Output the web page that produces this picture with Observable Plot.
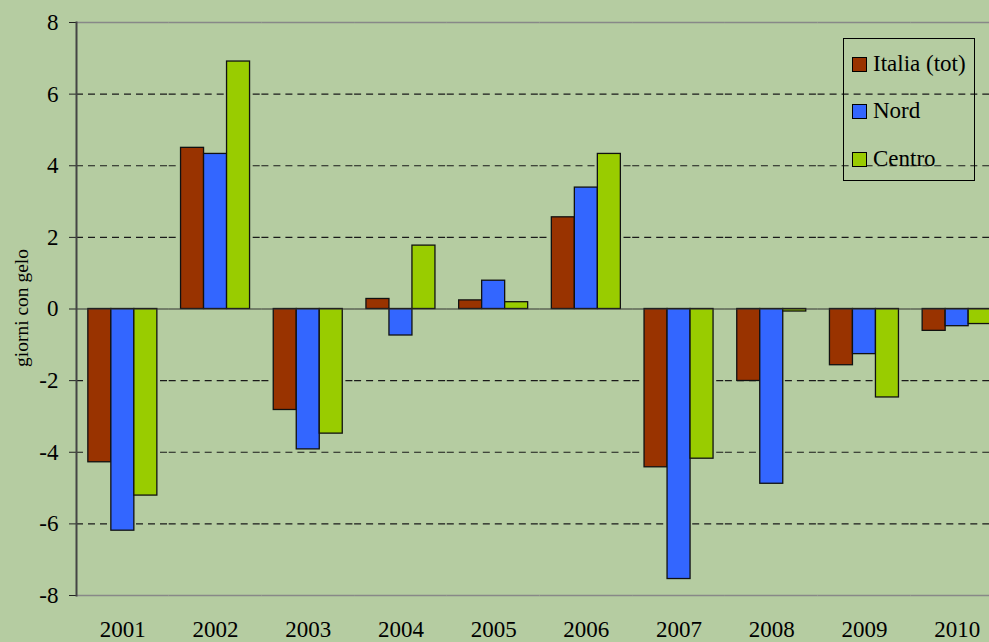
<!DOCTYPE html>
<html>
<head>
<meta charset="utf-8">
<script src="https://cdn.jsdelivr.net/npm/d3@7"></script>
<script src="https://cdn.jsdelivr.net/npm/@observablehq/plot@0.6"></script>
<style>
  html, body { margin: 0; padding: 0; overflow: hidden; background: #b5cca1; }
  #wrap { position: relative; width: 989px; height: 642px; background: #b5cca1; font-family: 'Liberation Serif', 'Times New Roman', serif; }
  #ylabel { position: absolute; left: 22px; top: 308px; transform: translate(-50%, -50%) rotate(-90deg); font-size: 19.5px; white-space: nowrap; color: #000; }
  #legend { position: absolute; left: 843px; top: 38px; width: 130px; height: 141px; border: 1.5px solid #000; box-sizing: content-box; }
  .item { position: absolute; left: 8px; display: flex; align-items: center; font-size: 23px; color: #000; white-space: nowrap; }
  .sw { width: 13px; height: 13px; border: 1.3px solid #000; margin-right: 6px; }
</style>
</head>
<body>
<div id="wrap">
  <div id="chart"></div>
  <div id="ylabel">giorni con gelo</div>
  <div id="legend"></div>
</div>
<script>
const years = ["2001","2002","2003","2004","2005","2006","2007","2008","2009","2010"];
const seriesNames = ["Italia (tot)", "Nord", "Centro"];
const seriesColors = ["#993300", "#3366ff", "#99cc00"];
const italia = [-4.28, 4.50, -2.82, 0.28, 0.24, 2.56, -4.42, -2.01, -1.57, -0.61];
const nord   = [-6.19, 4.33, -3.92, -0.74, 0.79, 3.39, -7.54, -4.88, -1.26, -0.48];
const centro = [-5.21, 6.91, -3.48, 1.77, 0.19, 4.33, -4.18, -0.07, -2.47, -0.42];
const yTicks = [-8, -6, -4, -2, 0, 2, 4, 6, 8];
const gridVals = [-6, -4, -2, 2, 4, 6];

const seriesValues = [italia, nord, centro];
const table = [];
years.forEach((yr, i) => {
  seriesNames.forEach((s, j) => table.push({year: yr, series: s, value: seriesValues[j][i]}));
});

const chart = Plot.plot({
  width: 989,
  height: 642,
  marginLeft: 76,
  marginTop: 22,
  marginBottom: 47,
  marginRight: 0,
  style: {background: "transparent", fontFamily: "'Liberation Serif', 'Times New Roman', serif", fontSize: "23px", color: "#000", overflow: "hidden"},
  fx: {domain: years, range: [76, 1003], padding: 0, round: false, label: null},
  x: {domain: seriesNames, paddingInner: 0, paddingOuter: 0.515, round: false, axis: null},
  y: {domain: [-8, 8], label: null},
  color: {domain: seriesNames, range: seriesColors},
  marks: [
    Plot.ruleY(gridVals, {stroke: "#1a1a1a", strokeDasharray: "7,5", strokeWidth: 1.2}),
    Plot.ruleY([8, -8], {stroke: "#888888", strokeWidth: 1.5}),
    Plot.barY(table, {fx: "year", x: "series", y: "value", fill: "series", stroke: "#111", strokeWidth: 1.3}),
    Plot.ruleY([0], {stroke: "#333", strokeWidth: 1.2}),
    Plot.axisY({ticks: yTicks, tickSize: 7, tickPadding: 11, tickFormat: d => String(d), label: null, stroke: "#222"}),
    Plot.axisFx({anchor: "bottom", tickSize: 0, tickPadding: 25, label: null}),
    Plot.frame({anchor: "left", stroke: "#444", strokeWidth: 2, facetAnchor: "left"})
  ]
});
document.getElementById("chart").appendChild(chart);

const legend = document.getElementById("legend");
const rowTops = [12, 59, 107];
seriesNames.forEach((s, i) => {
  const it = document.createElement("div");
  it.className = "item";
  it.style.top = rowTops[i] + "px";
  const sw = document.createElement("div");
  sw.className = "sw";
  sw.style.background = seriesColors[i];
  const t = document.createElement("span");
  t.textContent = s;
  it.appendChild(sw);
  it.appendChild(t);
  legend.appendChild(it);
});
</script>
</body>
</html>
